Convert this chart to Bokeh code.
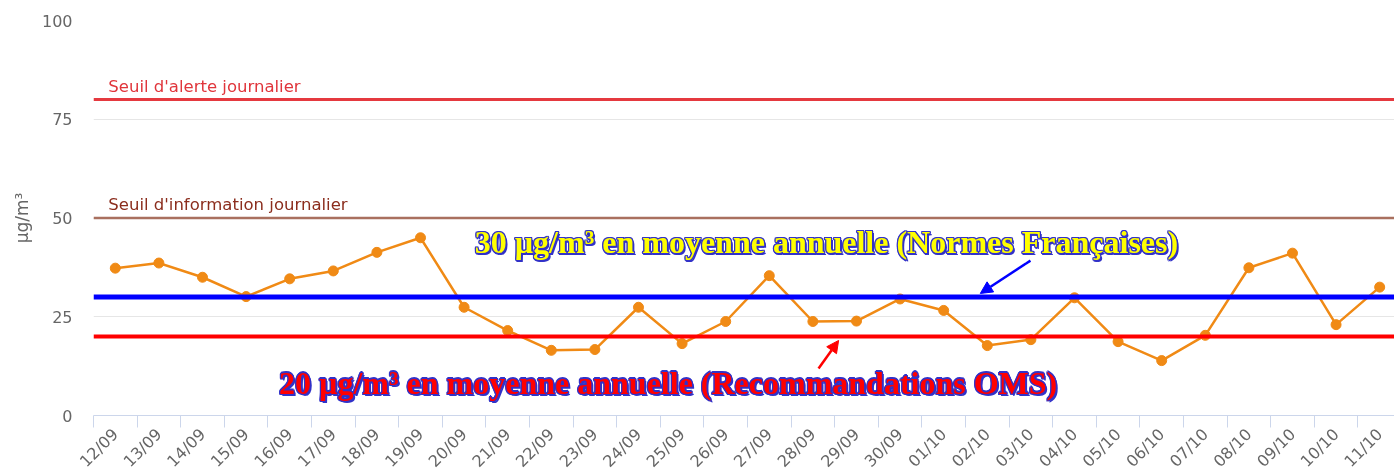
from bokeh.plotting import figure
from bokeh.models import Span, Label, Arrow, NormalHead, FixedTicker
from bokeh.embed import file_html
from bokeh.resources import INLINE

dates = ["12/09", "13/09", "14/09", "15/09", "16/09", "17/09", "18/09", "19/09", "20/09", "21/09",
         "22/09", "23/09", "24/09", "25/09", "26/09", "27/09", "28/09", "29/09", "30/09", "01/10",
         "02/10", "03/10", "04/10", "05/10", "06/10", "07/10", "08/10", "09/10", "10/10", "11/10"]
values = [37.3, 38.6, 35.0, 30.1, 34.6, 36.6, 41.3, 45.0, 27.4, 21.5,
          16.5, 16.7, 27.4, 18.2, 23.8, 35.4, 23.8, 23.9, 29.5, 26.6,
          17.7, 19.2, 29.8, 18.7, 13.9, 20.3, 37.4, 41.1, 23.0, 32.5]
y_ticks = [0, 25, 50, 75, 100]
alert_level = 80
info_level = 50
fr_norm = 30
who_norm = 20

xs = [i + 0.5 for i in range(len(dates))]

p = figure(frame_width=1301, frame_height=395, output_backend="svg", toolbar_location=None,
           x_range=(0, 29.84), y_range=(0, 100),
           min_border_left=85, min_border_right=0, min_border_top=12, min_border_bottom=10)
p.styles = {"position": "fixed", "top": "8px", "left": "8px"}
p.outline_line_color = None
p.background_fill_color = "white"

# axes
xa = p.xaxis[0]
xa.ticker = FixedTicker(ticks=xs, minor_ticks=list(range(len(dates) + 1)))
xa.major_label_overrides = {x: d for x, d in zip(xs, dates)}
xa.major_label_orientation = 0.785398
xa.major_tick_out = 0
xa.major_tick_in = 0
xa.minor_tick_out = 12
xa.minor_tick_in = 0
xa.minor_tick_line_color = "#ccd6eb"
xa.axis_line_color = "#ccd6eb"
xa.major_label_text_font = "DejaVu Sans"
xa.major_label_text_font_size = "16px"
xa.major_label_text_color = "#666666"
xa.major_label_standoff = 4

ya = p.yaxis[0]
ya.ticker = FixedTicker(ticks=y_ticks)
ya.axis_line_color = None
ya.major_tick_line_color = None
ya.minor_tick_line_color = None
ya.major_label_text_font = "DejaVu Sans"
ya.major_label_text_font_size = "16px"
ya.major_label_text_color = "#666666"
ya.major_label_standoff = 15
ya.axis_label = "µg/m³"
ya.axis_label_text_font = "DejaVu Sans"
ya.axis_label_text_font_size = "17px"
ya.axis_label_text_font_style = "normal"
ya.axis_label_text_color = "#666666"
ya.axis_label_standoff = 7

p.xgrid.grid_line_color = None
p.ygrid.grid_line_color = "#e6e6e6"
p.ygrid.ticker = FixedTicker(ticks=y_ticks)

# threshold lines
p.add_layout(Span(location=alert_level, dimension="width", line_color="#e5393f", line_width=3))
p.add_layout(Span(location=info_level, dimension="width", line_color="#a9705f", line_width=2.5))
p.add_layout(Span(location=fr_norm, dimension="width", line_color="#0000ff", line_width=5))
p.add_layout(Span(location=who_norm, dimension="width", line_color="#ff0000", line_width=4))

p.add_layout(Label(x=0.34, y=alert_level, y_offset=4, text="Seuil d'alerte journalier",
                   text_font="DejaVu Sans", text_font_size="16.5px", text_color="#e0353b",
                   text_baseline="bottom"))
p.add_layout(Label(x=0.34, y=info_level, y_offset=4, text="Seuil d'information journalier",
                   text_font="DejaVu Sans", text_font_size="16.5px", text_color="#8b2d1d",
                   text_baseline="bottom"))

# data series
p.line(xs, values, line_color="#f08a15", line_width=2.5)
p.scatter(xs, values, size=10, fill_color="#f08a15", line_color="#f08a15")

# annotations (outlined text: blue halo copies + filled text on top)
def outlined(x, y, text, fill):
    common = dict(x=x, y=y, text=text, text_font="Liberation Serif", text_font_style="bold",
                  text_font_size="32px", text_align="center", text_baseline="middle")
    for dx, dy in [(2, -2), (-1.2, 0), (1.2, 0), (0, 1.2), (0, -1.2),
                   (-1, -1), (1, 1), (-1, 1), (1, -1)]:
        p.add_layout(Label(x_offset=dx, y_offset=dy, text_color="#3232c8", **common))
    p.add_layout(Label(text_color=fill, **common))

outlined(16.81, 43.8, "30 µg/m³ en moyenne annuelle (Normes Françaises)", "#ffff00")
outlined(13.18, 8.35, "20 µg/m³ en moyenne annuelle (Recommandations OMS)", "#ff0000")

p.add_layout(Arrow(x_start=21.49, y_start=39.2, x_end=20.34, y_end=30.9,
                   line_color="#0000ff", line_width=2.5,
                   end=NormalHead(size=12, fill_color="#0000ff", line_color="#0000ff")))
p.add_layout(Arrow(x_start=16.63, y_start=11.9, x_end=17.09, y_end=19.0,
                   line_color="#ff0000", line_width=2.5,
                   end=NormalHead(size=12, fill_color="#ff0000", line_color="#ff0000")))

open("out.html", "w").write(file_html(p, INLINE))
